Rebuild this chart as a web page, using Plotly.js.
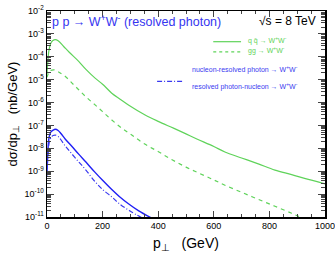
<!DOCTYPE html>
<html><head><meta charset="utf-8">
<script src="https://cdn.plot.ly/plotly-3.0.1.min.js"></script>
<style>html,body{margin:0;padding:0;background:#fff}#c{width:335px;height:255px}</style>
</head><body><div id="c"></div>
<script>
const ptQQ = [0,3,6,10,15,20,30,40,60,80,114,140,173,200,233,263,293,353,400,455,500,539,600,640,700,760,820,880,940,1000];
const qqWW = [1.78e-5,6.3e-5,1.58e-4,2.82e-4,4.17e-4,5.0e-4,5.6e-4,5.0e-4,2.82e-4,1.58e-4,6.3e-5,2.82e-5,1.17e-5,6.3e-6,2.57e-6,1.41e-6,7.9e-7,2.88e-7,1.51e-7,7.6e-8,4.27e-8,2.57e-8,1.2e-8,6.9e-9,3.8e-9,2.09e-9,1.12e-9,7.1e-10,4.37e-10,2.82e-10];
const ptGG = [0,5,10,24,40,66,90,114,140,173,200,233,269,305,350,401,450,500,550,600,640,700,760,820,880,920];
const ggWW = [1.26e-5,1.9e-5,2.4e-5,2.7e-5,2.24e-5,1.38e-5,7.1e-6,3.63e-6,1.78e-6,7.9e-7,4.0e-7,1.74e-7,7.6e-8,3.8e-8,1.58e-8,7.1e-9,3.16e-9,1.51e-9,7.9e-10,4.17e-10,2.45e-10,1.2e-10,5.9e-11,2.95e-11,1.45e-11,8.9e-12];
const ptNR = [0,2,4,6,10,15,22,30,40,50,66,90,114,140,173,200,233,260,293,330,377];
const nucResPhot = [9.3e-10,4.0e-9,1.12e-8,2.29e-8,4.0e-8,5.4e-8,6.3e-8,6.8e-8,6.0e-8,4.47e-8,2.51e-8,1.2e-8,5.6e-9,2.51e-9,8.9e-10,4.0e-10,1.58e-10,7.9e-11,3.8e-11,1.86e-11,8.9e-12];
const ptRN = [0,2,4,6,10,16,22,30,40,66,90,114,140,173,200,233,260,300,341];
const resPhotNuc = [6.3e-10,2.51e-9,6.3e-9,1.26e-8,2.24e-8,3.16e-8,3.63e-8,3.8e-8,3.3e-8,1.26e-8,5.6e-9,2.57e-9,1.12e-9,3.47e-10,1.58e-10,7.6e-11,3.8e-11,1.78e-11,9.3e-12];
const yTickVals = [1e-11,1e-10,1e-9,1e-8,1e-7,1e-6,1e-5,1e-4,1e-3,1e-2];
const yTickText = ['10<sup>-11</sup>','10<sup>-10</sup>','10<sup>-9</sup>','10<sup>-8</sup>','10<sup>-7</sup>','10<sup>-6</sup>','10<sup>-5</sup>','10<sup>-4</sup>','10<sup>-3</sup>','10<sup>-2</sup>'];
const xTickVals = [0,200,400,600,800,1000];
const xTickText = ['0','200','400','600','800','1000'];

const green = '#5fd35a', blue = '#1f1ff5', blue2 = '#3a3af0';
const font = 'Liberation Sans, Arial, sans-serif';

const traces = [
  {x: ptQQ, y: qqWW, mode:'lines', line:{color:green, width:1.2, shape:'spline'}},
  {x: ptGG, y: ggWW, mode:'lines', line:{color:green, width:1.2, dash:'4px,4px', shape:'spline'}},
  {x: ptNR, y: nucResPhot, mode:'lines', line:{color:blue, width:1.4, shape:'spline'}},
  {x: ptRN, y: resPhotNuc, mode:'lines', line:{color:blue2, width:1.2, dash:'5px,2px,1px,2px', shape:'spline'}}
];

const layout = {
  width:335, height:255,
  margin:{l:47, r:10, t:11, b:38},
  paper_bgcolor:'#fff', plot_bgcolor:'#fff',
  showlegend:false,
  font:{family:font, color:'#000', size:9},
  xaxis:{range:[0,1000], tickvals:xTickVals, ticktext:xTickText, ticklabeloverflow:'allow', ticks:'inside', ticklen:6, tickwidth:1, showline:true, linewidth:1.5, linecolor:'#000', mirror:'allticks', showgrid:false, zeroline:false,
    tickfont:{size:9}, minor:{ticks:'inside', ticklen:3, dtick:50, showgrid:false},
    title:{text:'p<sub>⊥</sub>   (GeV)', font:{size:14}, standoff:8}},
  yaxis:{type:'log', range:[-11,-2], tickvals:yTickVals, ticktext:yTickText, ticks:'inside', ticklen:7, tickwidth:1, showline:true, linewidth:1.5, linecolor:'#000', mirror:'allticks', showgrid:false, zeroline:false,
    tickfont:{size:9}, minor:{ticks:'inside', ticklen:4, dtick:'D1', showgrid:false},
    title:{text:'dσ/dp<sub>⊥</sub>   (nb/GeV)', font:{size:13}, standoff:4}},
  shapes:[
    {type:'line', xref:'paper', yref:'paper', x0:0.598, x1:0.698, y0:0.851, y1:0.851, line:{color:green, width:1.2}},
    {type:'line', xref:'paper', yref:'paper', x0:0.598, x1:0.698, y0:0.802, y1:0.802, line:{color:green, width:1.2, dash:'3px,3px'}},
    {type:'line', xref:'paper', yref:'paper', x0:0.396, x1:0.49, y0:0.658, y1:0.658, line:{color:blue2, width:1.2, dash:'5px,2px,1px,2px'}}
  ],
  annotations:[
    {xref:'paper', yref:'paper', x:0.01, y:0.95, xanchor:'left', yanchor:'middle', showarrow:false, text:'p p → W<sup>+</sup>W<sup>-</sup> (resolved photon)', font:{size:12.5, color:'#3535f0'}},
    {xref:'paper', yref:'paper', x:0.975, y:0.95, xanchor:'right', yanchor:'middle', showarrow:false, text:'√s = 8 TeV', font:{size:12, color:'#000'}},
    {xref:'paper', yref:'paper', x:0.715, y:0.855, xanchor:'left', yanchor:'middle', showarrow:false, text:'q q̄ → W<sup>+</sup>W<sup>-</sup>', font:{size:7, color:green}},
    {xref:'paper', yref:'paper', x:0.715, y:0.806, xanchor:'left', yanchor:'middle', showarrow:false, text:'gg → W<sup>+</sup>W<sup>-</sup>', font:{size:7, color:green}},
    {xref:'paper', yref:'paper', x:0.515, y:0.715, xanchor:'left', yanchor:'middle', showarrow:false, text:'nucleon-resolved photon → W<sup>+</sup>W<sup>-</sup>', font:{size:7, color:blue2}},
    {xref:'paper', yref:'paper', x:0.515, y:0.633, xanchor:'left', yanchor:'middle', showarrow:false, text:'resolved photon-nucleon → W<sup>+</sup>W<sup>-</sup>', font:{size:7, color:blue2}}
  ]
};
Plotly.newPlot('c', traces, layout, {displayModeBar:false, staticPlot:true});
</script>
</body></html>
